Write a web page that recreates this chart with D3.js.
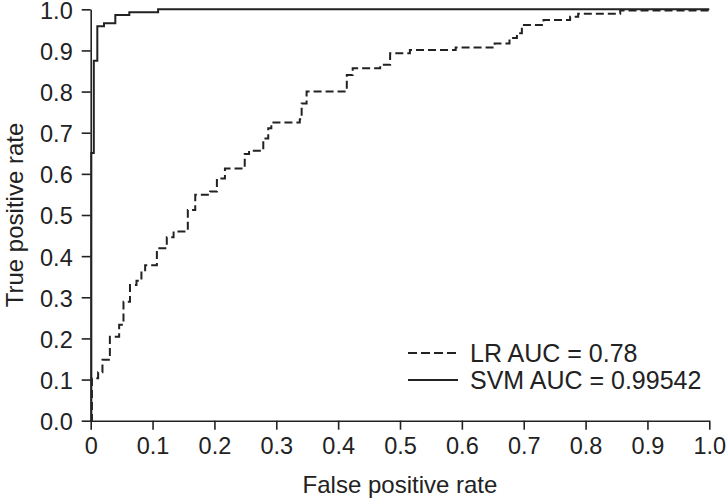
<!DOCTYPE html>
<html>
<head>
<meta charset="utf-8">
<script src="https://cdn.jsdelivr.net/npm/d3@7"></script>
<style>
  body { margin: 0; background: #fff; }
  svg { font-family: "Liberation Sans", Arial, sans-serif; }
  .axis path, .axis line { stroke: #222; stroke-width: 1.6; }
  .axis text { fill: #222; font-size: 23.5px; }
</style>
</head>
<body>
<svg id="chart" width="726" height="501"></svg>
<script>
// ROC points (step after each point)
const lrFpr = [0, 0.002, 0.012, 0.019, 0.031, 0.046, 0.053, 0.0635, 0.074, 0.082, 0.088, 0.107, 0.123, 0.134, 0.157, 0.169, 0.193, 0.204, 0.217, 0.249, 0.256, 0.279, 0.287, 0.292, 0.338, 0.341, 0.349, 0.414, 0.4235, 0.468, 0.484, 0.516, 0.59, 0.653, 0.677, 0.689, 0.697, 0.732, 0.775, 0.788, 0.856, 1.0];
const lrTpr = [0, 0.103, 0.118, 0.148, 0.204, 0.233, 0.289, 0.330, 0.340, 0.366, 0.378, 0.419, 0.446, 0.460, 0.512, 0.549, 0.557, 0.589, 0.613, 0.648, 0.656, 0.686, 0.711, 0.725, 0.733, 0.771, 0.800, 0.840, 0.857, 0.865, 0.893, 0.901, 0.907, 0.917, 0.930, 0.942, 0.962, 0.974, 0.982, 0.989, 0.997, 0.997];

const svmFpr = [0, 0.001, 0.005, 0.0107, 0.0215, 0.0398, 0.0624, 0.109, 1.0];
const svmTpr = [0, 0.651, 0.875, 0.959, 0.966, 0.986, 0.993, 1.0, 1.0];

const xTicks = [0, 0.1, 0.2, 0.3, 0.4, 0.5, 0.6, 0.7, 0.8, 0.9, 1.0];
const yTicks = [0, 0.1, 0.2, 0.3, 0.4, 0.5, 0.6, 0.7, 0.8, 0.9, 1.0];
const legendLabels = ["LR AUC = 0.78", "SVM AUC = 0.99542"];

const svg = d3.select("#chart");
const margin = { left: 90.7, right: 16.7, top: 9.3, bottom: 80.3 };
const width = 726 - margin.left - margin.right;
const height = 501 - margin.top - margin.bottom;

const g = svg.append("g").attr("transform", `translate(${margin.left},${margin.top})`);

const x = d3.scaleLinear().domain([0, 1]).range([0, width]);
const y = d3.scaleLinear().domain([0, 1]).range([height, 0]);

const xAxis = d3.axisBottom(x)
    .tickValues(xTicks)
    .tickFormat(d => d === 0 ? "0" : d3.format(".1f")(d))
    .tickSizeInner(9).tickSizeOuter(0).tickPadding(8);

const yAxis = d3.axisLeft(y)
    .tickValues(yTicks)
    .tickFormat(d3.format(".1f"))
    .tickSizeInner(9).tickSizeOuter(0).tickPadding(9);

g.append("g").attr("class", "axis")
    .attr("transform", `translate(0,${height})`)
    .call(xAxis);

g.append("g").attr("class", "axis")
    .call(yAxis)
    .selectAll("text").attr("dy", "0.38em");

const line = d3.line()
    .x(d => x(d[0]))
    .y(d => y(d[1]))
    .curve(d3.curveStepAfter);

const lrData = d3.zip(lrFpr, lrTpr);
const svmData = d3.zip(svmFpr, svmTpr);

g.append("path")
    .datum(svmData)
    .attr("fill", "none")
    .attr("stroke", "#222")
    .attr("stroke-width", 2)
    .attr("d", line);

g.append("path")
    .datum(lrData)
    .attr("fill", "none")
    .attr("stroke", "#222")
    .attr("stroke-width", 2)
    .attr("stroke-dasharray", "8,4")
    .attr("d", line);

// legend
const legend = svg.append("g").attr("transform", "translate(408,353)");
legendLabels.forEach((label, i) => {
    const row = legend.append("g").attr("transform", `translate(0,${i * 27})`);
    row.append("line")
        .attr("x1", 0).attr("x2", 50)
        .attr("stroke", "#222").attr("stroke-width", 1.8)
        .attr("stroke-dasharray", i === 0 ? "9,4" : null);
    row.append("text")
        .attr("x", 62).attr("dy", "0.36em")
        .attr("fill", "#222")
        .style("font-size", "25px")
        .text(label);
});

// axis titles
svg.append("text")
    .attr("x", margin.left + width / 2).attr("y", 493)
    .attr("text-anchor", "middle")
    .attr("fill", "#222")
    .style("font-size", "24px")
    .text("False positive rate");

svg.append("text")
    .attr("transform", `translate(23,${margin.top + height / 2}) rotate(-90)`)
    .attr("text-anchor", "middle")
    .attr("fill", "#222")
    .style("font-size", "24px")
    .text("True positive rate");
</script>
</body>
</html>
